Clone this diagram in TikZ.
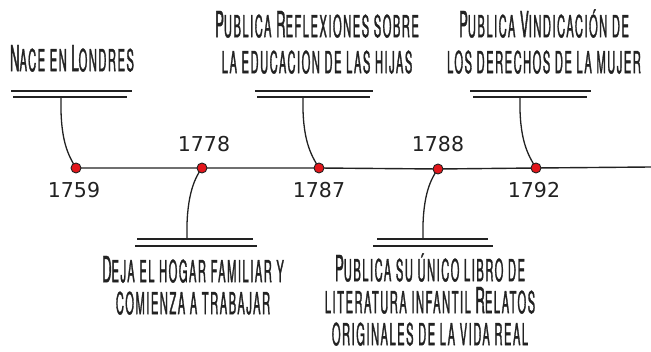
\documentclass[tikz,border=0pt]{standalone}
\usepackage{fontspec}
\newfontfamily\hand{TeX Gyre Heros}[FakeStretch=0.365, FakeBold=1, LetterSpace=5]
\newfontfamily\yearfont{DejaVu Sans}
\newcommand\Ini[1]{{\fontsize{36}{36}\selectfont #1}}
\definecolor{dotred}{HTML}{E3161B}
\definecolor{ink}{HTML}{222222}
\begin{document}
\begin{tikzpicture}[x=1pt,y=-1pt,
  lbl/.style={inner sep=0pt, align=center, font=\hand\fontsize{30.5}{36}\selectfont, text=ink},
  lblb/.style={lbl, font=\hand\fontsize{30.5}{32}\selectfont},
  yr/.style={inner sep=0pt, font=\yearfont\fontsize{20.5}{20.5}\selectfont, text=ink},
  ev/.style={circle, draw=ink, fill=dotred, line width=0.9pt, minimum size=10pt, inner sep=0pt},
  bar/.style={draw=ink, line width=1.6pt},
  conn/.style={draw=ink, line width=1.3pt},
  axis/.style={draw=ink, line width=1.4pt}]
\useasboundingbox[fill=white] (0,0) rectangle (651,352);
% event points
\coordinate (p1759) at (76,168);
\coordinate (p1778) at (202,168);
\coordinate (p1787) at (319,168);
\coordinate (p1788) at (438,169);
\coordinate (p1792) at (536,168);
\coordinate (end) at (651,167);
% bar attachment points
\coordinate (t1759) at (61,97);
\coordinate (t1787) at (303,97);
\coordinate (t1792) at (520,97);
\coordinate (b1778) at (187,239);
\coordinate (b1788) at (423,239);
% axis
\draw[axis] (p1759) -- (p1778) -- (p1787) -- (p1788) -- (p1792) -- (end);
% bars
\draw[bar] (11,91) -- (132,91); \draw[bar] (13,97) -- (127,97);
\draw[bar] (255,91) -- (373,91); \draw[bar] (257,97) -- (370,97);
\draw[bar] (470,91) -- (591,91); \draw[bar] (473,97) -- (587,97);
\draw[bar] (137,239) -- (253,239); \draw[bar] (135,246) -- (257,246);
\draw[bar] (377,239) -- (488,239); \draw[bar] (373,246) -- (493,246);
% connectors
\draw[conn] (t1759) .. controls (60,140) and (68,155) .. (p1759);
\draw[conn] (t1787) .. controls (302,140) and (311,155) .. (p1787);
\draw[conn] (t1792) .. controls (519,140) and (528,155) .. (p1792);
\draw[conn] (p1778) .. controls (193,180) and (186,200) .. (b1778);
\draw[conn] (p1788) .. controls (429,181) and (422,200) .. (b1788);
% dots
\node[ev] (d1759) at (p1759) {};
\node[ev] (d1778) at (p1778) {};
\node[ev] (d1787) at (p1787) {};
\node[ev] (d1788) at (p1788) {};
\node[ev] (d1792) at (p1792) {};
% years
\node[yr] (y1759) at (74,190) {1759};
\node[yr] (y1778) at (204,144) {1778};
\node[yr] (y1787) at (319,190) {1787};
\node[yr] (y1788) at (438,144) {1788};
\node[yr] (y1792) at (534,190) {1792};
% labels
\node[lbl, anchor=south] (l1759) at (72,72) {\Ini{N}ACE EN \Ini{L}ONDRES};
\node[lbl, anchor=south] (l1787) at (317,74) {\Ini{P}UBLICA \Ini{R}EFLEXIONES SOBRE\\LA EDUCACION DE LAS HIJAS};
\node[lbl, anchor=south] (l1792) at (544,74) {\Ini{P}UBLICA \Ini{V}INDICACIÓN DE\\LOS DERECHOS DE LA MUJER};
\node[lblb, anchor=south] (l1778) at (193,315) {\Ini{D}EJA EL HOGAR FAMILIAR Y\\COMIENZA A TRABAJAR};
\node[lblb, anchor=south] (l1788) at (430,346) {\Ini{P}UBLICA SU ÚNICO LIBRO DE\\LITERATURA INFANTIL \Ini{R}ELATOS\\ORIGINALES DE LA VIDA REAL};
\end{tikzpicture}
\end{document}
